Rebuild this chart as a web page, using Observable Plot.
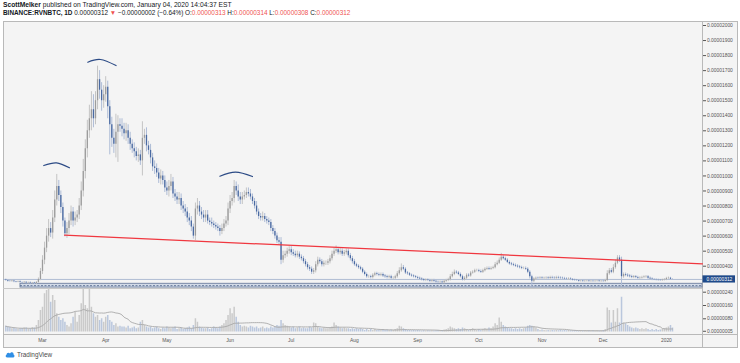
<!DOCTYPE html>
<html><head><meta charset="utf-8">
<script src="https://cdn.jsdelivr.net/npm/d3@7"></script>
<script src="https://cdn.jsdelivr.net/npm/@observablehq/plot@0.6"></script>
<style>
html,body{margin:0;padding:0;background:#fff;}
#wrap{position:relative;width:740px;height:363px;overflow:hidden;font-family:"Liberation Sans",Arial,sans-serif;}
.hdr{position:absolute;left:3px;white-space:nowrap;color:#131722;line-height:1;}
.red{color:#ef5350}
#frame{position:absolute;left:3px;top:21px;width:733px;height:325px;border:1px solid #b9b9b9;background:#f4f4f4;box-sizing:content-box;}
.ln{position:absolute;background:#b9b9b9;}
.plot{position:absolute;left:3px;}
#logo{position:absolute;left:5px;top:351px;font-size:6.4px;color:#4a4a4a;white-space:nowrap;display:flex;align-items:center;gap:2px;}
</style></head><body>
<div id="wrap">
 <div class="hdr" style="top:2px;font-size:6.7px"><b>ScottMelker</b> published on TradingView.com, January 04, 2020 14:04:37 EST</div>
 <div class="hdr" style="top:10px;font-size:6.4px"><b>BINANCE:RVNBTC, 1D</b> 0.00000312 <span class="red">▼</span> −0.00000002 (−0.64%) O:<span class="red">0.00000313</span> H:<span class="red">0.00000314</span> L:<span class="red">0.00000308</span> C:<span class="red">0.00000312</span></div>
 <div id="frame"></div>
 <div class="ln" style="left:702px;top:21px;width:1px;height:326px"></div>
 <div class="ln" style="left:3px;top:334px;width:734px;height:1px"></div>
 <div class="ln" style="left:3px;top:288px;width:699px;height:1px;background:#c8c8c8"></div>
 <div id="p1" class="plot" style="top:21px"></div>
 <div id="p2" class="plot" style="top:288px"></div>
 <div id="logo"><svg width="10" height="7" viewBox="0 0 20 14"><path d="M5 13 C1 13 0 9 3 7.5 C3 3 8 2 10 5 C12 1 18 2 17 7 C20 8 19.5 13 16 13 Z" fill="#2f8ee5"/></svg><span>TradingView</span></div>
</div>
<script>
// ---------- data (prices in satoshi, 1e-8 BTC) ----------
const startDate = "2019-02-11";
const firstOpen = 308;
const closes = [
 305,300,298,302,296,294,297,292,290,293,288,290,286,288,285,
 292,312,365,
 440,520,600,650,620,720,840,930,870,790,700,615,
 650,700,760,700,720,740,800,
 900,1030,1180,1300,1380,1440,1380,1500,1640,1570,1500,
 1540,1590,1460,1340,1250,1210,1290,1340,1330,1310,
 1280,1300,1250,1210,1180,1160,1130,1140,1100,1250,
 1270,1200,1170,1120,1060,1050,1020,980,1000,970,
 920,900,930,960,880,860,840,850,800,780,
 760,720,700,660,600,780,800,760,740,720,
 740,700,690,680,670,660,650,630,650,680,
 700,780,830,850,930,900,860,840,860,870,
 890,880,860,830,800,760,730,720,730,710,
 700,690,650,630,600,570,560,440,470,480,
 500,510,490,480,470,480,460,450,430,410,
 390,380,360,370,410,440,430,410,420,420,
 430,450,480,500,510,490,500,480,490,500,
 470,450,430,410,400,390,380,360,345,330,
 330,325,340,350,345,340,345,335,330,325,
 330,320,320,330,350,370,390,380,355,350,
 340,335,330,325,320,315,310,305,308,305,
 300,305,300,295,293,295,290,300,305,310,
 330,345,360,355,345,330,310,320,340,335,
 355,360,370,370,365,360,370,380,385,380,
 385,390,410,420,440,460,450,440,425,415,
 410,405,400,395,390,385,385,380,360,330,
 300,315,320,318,322,318,320,322,318,325,
 322,320,325,322,320,318,315,313,315,312,
 308,306,305,300,302,298,300,302,298,300,
 298,300,302,298,300,298,305,350,370,360,
 390,420,455,440,330,345,340,335,330,325,
 330,325,320,322,325,328,330,320,315,312,
 310,308,306,305,308,310,318,320,313,312
];
const upperWicks = [
 6,5,4,6,5,4,5,6,4,5,4,5,6,4,5,
 6,10,20,
 30,40,50,60,40,50,60,80,40,30,30,20,
 40,50,40,30,40,30,50,
 60,80,60,70,90,120,100,60,90,60,50,
 60,70,40,40,50,60,120,60,40,50,
 40,50,40,40,30,40,30,40,30,110,
 40,50,30,40,30,40,30,30,40,30,
 30,40,40,50,30,30,30,40,30,30,
 30,30,30,30,20,40,50,30,30,30,
 30,30,20,30,20,20,20,20,30,30,
 30,40,40,40,40,30,40,30,30,30,
 30,30,30,20,20,30,20,20,30,20,
 20,20,20,20,20,20,20,30,30,20,
 20,20,20,20,20,20,15,15,15,15,
 15,15,15,15,20,20,15,15,15,15,
 15,20,20,20,25,15,20,15,15,15,
 15,15,15,15,10,10,10,10,10,10,
 10,10,10,10,10,10,10,10,10,10,
 10,10,10,10,15,20,25,15,10,10,
 8,8,8,8,8,8,8,8,8,8,
 8,8,8,8,8,8,8,8,8,10,
 15,15,15,10,10,10,10,10,10,10,
 10,10,10,10,10,10,10,10,10,10,
 10,10,15,15,15,25,10,10,10,10,
 10,10,10,10,10,10,10,10,10,10,
 10,8,8,8,8,8,8,8,8,8,
 8,8,8,8,8,8,8,8,8,8,
 6,6,6,6,6,6,6,6,6,6,
 6,6,6,6,6,6,8,20,15,15,
 20,20,15,15,20,10,10,10,10,10,
 8,8,8,8,8,8,8,8,8,8,
 6,6,6,6,6,8,8,8,6,1
];
const lowerWicks = [
 5,6,4,5,6,5,4,5,6,4,5,6,5,4,6,
 5,5,8,
 20,30,30,40,30,40,30,40,40,40,40,20,
 30,40,30,40,30,30,30,
 30,40,50,60,50,80,60,40,60,60,70,
 50,50,80,200,60,60,90,200,40,50,
 40,50,40,40,30,40,30,40,30,100,
 40,40,30,40,30,40,30,30,40,30,
 30,30,40,30,30,30,30,30,30,30,
 30,30,30,30,20,30,40,30,30,30,
 30,20,20,20,20,20,20,30,20,20,
 20,30,30,30,30,30,30,30,30,20,
 20,20,20,20,20,20,20,20,20,20,
 20,20,20,20,20,20,20,30,20,20,
 20,20,20,15,15,15,15,15,15,15,
 15,15,15,15,15,15,15,15,15,15,
 15,15,15,15,15,15,15,15,15,15,
 15,15,15,10,10,10,10,10,10,10,
 10,10,10,10,10,10,10,10,10,10,
 10,10,10,10,10,10,10,10,10,10,
 8,8,8,8,8,8,8,8,8,8,
 8,8,8,8,8,8,8,8,8,8,
 8,8,8,8,8,8,8,8,8,8,
 8,8,8,8,8,8,8,8,8,8,
 8,8,8,8,8,8,8,8,8,8,
 8,8,8,8,8,8,8,8,10,15,
 40,10,8,8,8,8,8,8,8,8,
 8,8,8,8,8,8,8,8,8,8,
 6,6,6,6,6,6,6,6,6,6,
 6,6,6,6,6,6,6,8,10,10,
 10,10,10,15,60,10,10,10,8,8,
 8,8,8,8,8,8,8,8,8,8,
 6,6,6,6,6,6,6,6,6,4
];
const volumes = [
 35,30,28,20,22,18,15,20,22,25,24,18,20,26,24,
 40,70,130,
 150,230,250,290,180,220,190,110,90,70,80,60,
 40,30,50,90,120,60,100,
 170,300,160,140,300,150,110,90,100,70,80,
 60,90,100,70,60,40,50,30,35,30,
 30,25,35,20,25,30,20,25,60,70,
 40,30,25,30,20,25,30,20,15,25,
 20,30,25,20,25,30,15,20,25,15,
 20,25,30,20,40,80,60,30,25,20,
 20,25,15,20,30,25,20,30,40,50,
 70,100,140,110,150,90,60,40,30,35,
 30,25,35,30,25,30,20,25,30,20,
 25,20,30,25,30,40,35,70,50,40,
 35,30,25,30,20,25,30,20,25,20,
 20,30,25,55,50,30,25,20,25,20,
 20,25,30,55,40,30,25,20,25,20,
 20,15,20,15,20,15,20,15,10,15,
 10,15,10,15,10,12,10,15,10,12,
 10,12,10,15,20,35,30,20,15,10,
 10,8,10,8,10,8,6,8,6,8,
 6,8,6,8,10,8,10,12,15,20,
 30,25,20,15,20,15,25,20,15,10,
 15,20,15,10,15,10,15,20,15,25,
 20,30,50,40,85,60,40,30,25,20,
 20,15,20,15,20,15,20,25,35,40,
 35,30,25,15,10,12,10,8,10,8,
 10,8,10,8,12,8,10,8,10,8,
 8,10,8,6,8,6,8,6,8,6,
 8,6,8,6,8,10,15,145,130,55,
 130,60,140,55,210,55,50,40,30,25,
 20,25,20,15,20,15,20,15,10,15,
 10,15,10,12,15,20,25,30,40,25
];
// drawings
const trendDates = ["2019-03-11T19:00Z", "2020-01-18T17:00Z"];
const trendPrices = [606, 416];
const arcNames = ["a","a","a","b","b","b","c","c","c"];
const arcDates = ["2019-03-01T15:00Z","2019-03-07T21:00Z","2019-03-14T05:00Z",
                  "2019-03-23T05:00Z","2019-03-29T10:00Z","2019-04-06T02:00Z",
                  "2019-05-27T00:00Z","2019-06-03T17:00Z","2019-06-12T00:00Z"];
const arcPrices = [1069,1087,1054, 1756,1774,1734, 998,1025,996];
const zoneDates = ["2019-02-18T05:00Z", "2020-01-18T17:00Z"];
const zonePrices = [258, 283];
// axes
const priceTicks = [400,500,600,700,800,900,1000,1100,1200,1300,1400,1500,1600,1700,1800,1900,2000];
const volumeTicks = [5,80,160,240];
const monthTicks = ["2019-03-01","2019-04-01","2019-05-01","2019-06-01","2019-07-01","2019-08-01","2019-09-01","2019-10-01","2019-11-01","2019-12-01","2020-01-01"];
const monthLabels = ["Mar","Apr","May","Jun","Jul","Aug","Sep","Oct","Nov","Dec","2020"];
const xDomain = [new Date("2019-02-09T21:00Z"), new Date("2020-01-18T17:00Z")];

// ---------- build ----------
const t0 = Date.parse(startDate + "T00:00:00Z");
const rows = closes.map((c, i) => {
  const o = i ? closes[i - 1] : firstOpen;
  return {date: new Date(t0 + i * 864e5), open: o, close: c,
          high: Math.max(o, c) + upperWicks[i], low: Math.min(o, c) - lowerWicks[i],
          volume: volumes[i], up: c >= o};
});
if (![upperWicks, lowerWicks, volumes].every(a => a.length === closes.length)) console.error("length mismatch", closes.length, upperWicks.length, lowerWicks.length, volumes.length);
const upRows = rows.filter(d => d.up), dnRows = rows.filter(d => !d.up);
const last = rows[rows.length - 1];
const fmt8 = d => (d / 1e8).toFixed(8);
const trend = trendDates.map((d, i) => ({date: new Date(d), price: trendPrices[i]}));
const arcs = arcDates.map((d, i) => ({date: new Date(d), price: arcPrices[i], name: arcNames[i]}));
const zone = [{x1: new Date(zoneDates[0]), x2: new Date(zoneDates[1]), y1: zonePrices[0], y2: zonePrices[1], mid: (zonePrices[0] + zonePrices[1]) / 2}];
const font = "Liberation Sans, Arial, sans-serif";

const UP = "#9c9c9c", DN = "#4a6aa2", UPW = "#c4c4c4", DNW = "#aebcd6";

const chart1 = Plot.plot({
  width: 734, height: 267, marginLeft: 0, marginRight: 35, marginTop: 0, marginBottom: 0,
  style: {background: "transparent", fontFamily: font, fontSize: "4.9px", color: "#555", overflow: "visible"},
  x: {type: "utc", domain: xDomain, axis: null},
  y: {domain: [400, 2000], range: [244.7, 4], axis: "right", ticks: priceTicks, tickFormat: fmt8, tickSize: 3, tickPadding: 1.5, label: null},
  marks: [
    Plot.rect(zone, {x1: "x1", x2: "x2", y1: "y1", y2: "y2", fill: "#d3dbe8", stroke: "#6d7f9f", strokeWidth: 0.9}),
    Plot.ruleY(zone, {x1: "x1", x2: "x2", y: "mid", stroke: "#556a8e", strokeWidth: 0.9, strokeDasharray: "2,1.5"}),
    Plot.ruleY([last.close], {stroke: "#9fb0cc", strokeWidth: 0.8}),
    Plot.ruleX(upRows, {x: "date", y1: "low", y2: "high", stroke: UPW, strokeWidth: 1}),
    Plot.ruleX(dnRows, {x: "date", y1: "low", y2: "high", stroke: DNW, strokeWidth: 1}),
    Plot.ruleX(upRows, {x: "date", y1: "open", y2: "close", stroke: UP, strokeWidth: 1.3}),
    Plot.ruleX(dnRows, {x: "date", y1: "open", y2: "close", stroke: DN, strokeWidth: 1.3}),
    Plot.line(trend, {x: "date", y: "price", stroke: "#f0373f", strokeWidth: 1.2}),
    Plot.line(arcs, {x: "date", y: "price", z: "name", curve: "natural", stroke: "#2b4a85", strokeWidth: 1.2}),
    Plot.text([last.close], {y: d => d, frameAnchor: "right", dx: 4, textAnchor: "start", text: fmt8, fill: "#ffffff", fontSize: 4.9})
  ]
});
document.getElementById("p1").appendChild(chart1);
// background box for the last-price label, placed with the chart's own y scale
{
  const gs = chart1.querySelectorAll('g[aria-label="text"]');
  const g = gs[gs.length - 1];
  const yc = chart1.scale("y").apply(last.close);
  const r = document.createElementNS("http://www.w3.org/2000/svg", "rect");
  r.setAttribute("x", 699.5); r.setAttribute("width", 32.5);
  r.setAttribute("y", yc - 3.6); r.setAttribute("height", 7.2);
  r.setAttribute("fill", "#1f4a8a");
  g.parentNode.insertBefore(r, g);
}

const chart2 = Plot.plot({
  width: 734, height: 59, marginLeft: 0, marginRight: 35, marginTop: 0, marginBottom: 12.7,
  style: {background: "transparent", fontFamily: font, fontSize: "4.9px", color: "#555", overflow: "visible"},
  x: {type: "utc", domain: xDomain, ticks: monthTicks.map(d => new Date(d + "T00:00Z")),
      tickFormat: d => monthLabels[monthTicks.findIndex(m => +new Date(m + "T00:00Z") === +d)], tickSize: 0, tickPadding: 4, label: null},
  y: {domain: [0, 240], range: [43.6, 3.7], axis: "right", ticks: volumeTicks, tickFormat: fmt8, tickSize: 3, tickPadding: 1.5, label: null},
  marks: [
    Plot.ruleX(upRows, {x: "date", y1: 0, y2: "volume", stroke: "#cacaca", strokeWidth: 1.5, clip: true}),
    Plot.ruleX(dnRows, {x: "date", y1: 0, y2: "volume", stroke: "#bac7dd", strokeWidth: 1.5, clip: true}),
    Plot.lineY(rows, Plot.windowY({k: 20, anchor: "end"}, {x: "date", y: "volume", stroke: "#a9a9a9", strokeWidth: 0.9, clip: true}))
  ]
});
document.getElementById("p2").appendChild(chart2);
</script>
</body></html>
